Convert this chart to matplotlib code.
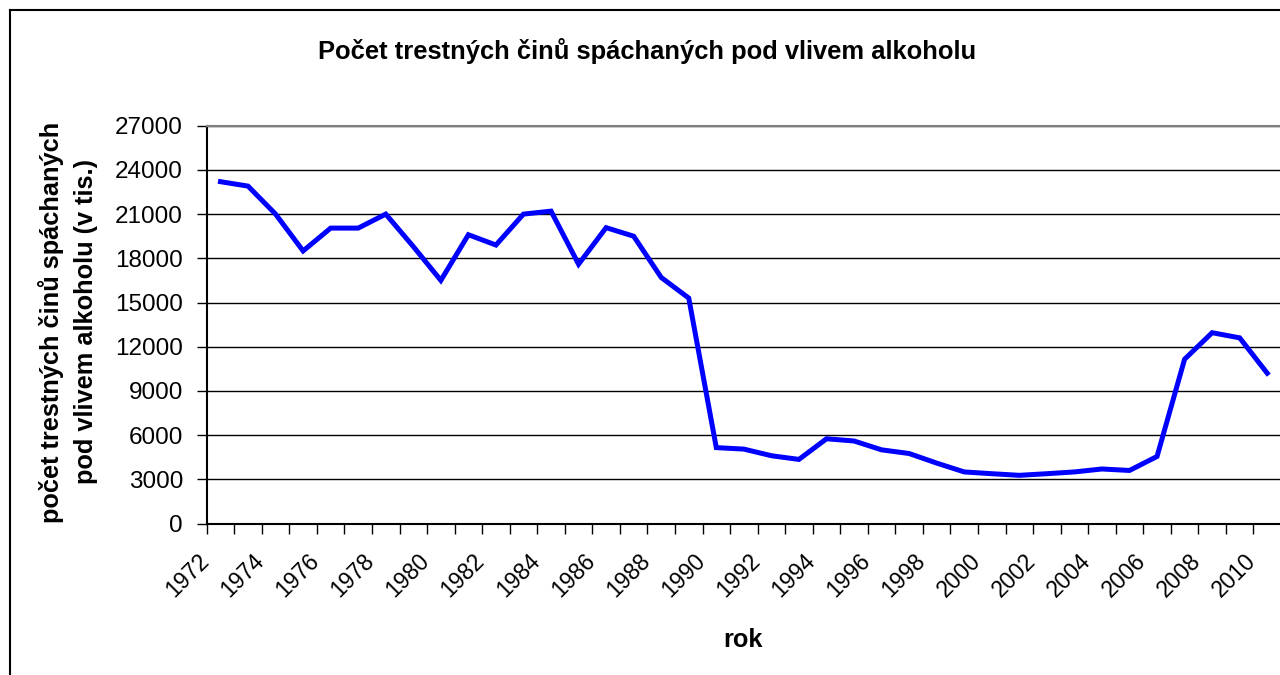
import matplotlib
matplotlib.use("Agg")
import matplotlib.pyplot as plt
from matplotlib.lines import Line2D
from matplotlib.ticker import FixedLocator, NullFormatter
from matplotlib.transforms import ScaledTranslation

years = list(range(1972, 2011))
values = [23200, 22900, 21000, 18500, 20050, 20050, 21000, 18800, 16500, 19600,
          18900, 21000, 21200, 17600, 20080, 19500, 16700, 15300, 5150, 5050,
          4600, 4350, 5750, 5600, 5000, 4750, 4100, 3500, 3380, 3270,
          3380, 3500, 3700, 3600, 4550, 11150, 12950, 12600, 10200]
yticks = list(range(0, 27001, 3000))

title = "Počet trestných činů spáchaných pod vlivem alkoholu"
ylabel = "počet trestných činů spáchaných\npod vlivem alkoholu (v tis.)"
xlabel = "rok"

plt.rcParams['font.family'] = ['Liberation Sans', 'DejaVu Sans']

W, H = 1280, 675
fig = plt.figure(figsize=(W / 100, H / 100), dpi=100)
fig.patch.set_facecolor('white')

L, R, T, B = 206.7, 1281, 125.7, 523.5
ax = fig.add_axes([L / W, 1 - B / H, (R - L) / W, (B - T) / H])

x = list(range(len(years)))
ax.plot(x, values, color='#0000FF', lw=3.6, solid_joinstyle='miter', zorder=3)

ax.set_xlim(-0.5, len(years) - 0.5)
ax.set_ylim(0, 27000)
ax.set_yticks(yticks)
ax.set_yticklabels([str(v) for v in yticks], fontsize=17.5)
ax.yaxis.grid(True, color='black', lw=1.0)
ax.set_axisbelow(True)

# category ticks between categories, labels every second year
ax.xaxis.set_major_locator(FixedLocator([i - 0.5 for i in range(len(years) + 1)]))
ax.xaxis.set_major_formatter(NullFormatter())
ax.tick_params(axis='x', which='major', length=7, width=1, color='black')
ax.tick_params(axis='y', length=7, width=1, color='black', pad=10)

lab_tr = ax.get_xaxis_transform() + ScaledTranslation(-0.23, -0.26, fig.dpi_scale_trans)
for i in x:
    if years[i] % 2 == 0:
        ax.text(i, 0, str(years[i]), transform=lab_tr, rotation=45,
                rotation_mode='anchor', ha='right', va='top', fontsize=16.5,
                clip_on=False)

ax.spines['right'].set_visible(False)
ax.spines['top'].set_color('#808080')
ax.spines['top'].set_linewidth(1.5)
ax.spines['left'].set_linewidth(1.5)
ax.spines['bottom'].set_linewidth(1.5)

fig.text(647.5 / W, 1 - 51 / H, title, ha='center', va='center',
         fontsize=18.4, fontweight='bold')
fig.text(68 / W, 1 - 322 / H, ylabel, ha='center', va='center', rotation=90,
         fontsize=18.3, fontweight='bold', multialignment='center', linespacing=1.5)
fig.text(743 / W, 1 - 640 / H, xlabel, ha='center', va='center',
         fontsize=18.3, fontweight='bold')

# outer chart border (left and top visible)
fig.add_artist(Line2D([9.5 / W, 9.5 / W], [0, 1 - 10 / H], color='black', lw=1.5,
                      transform=fig.transFigure))
fig.add_artist(Line2D([9.5 / W, 1], [1 - 10 / H, 1 - 10 / H], color='black', lw=1.5,
                      transform=fig.transFigure))

fig.savefig('out.png', dpi=100, facecolor='white')
